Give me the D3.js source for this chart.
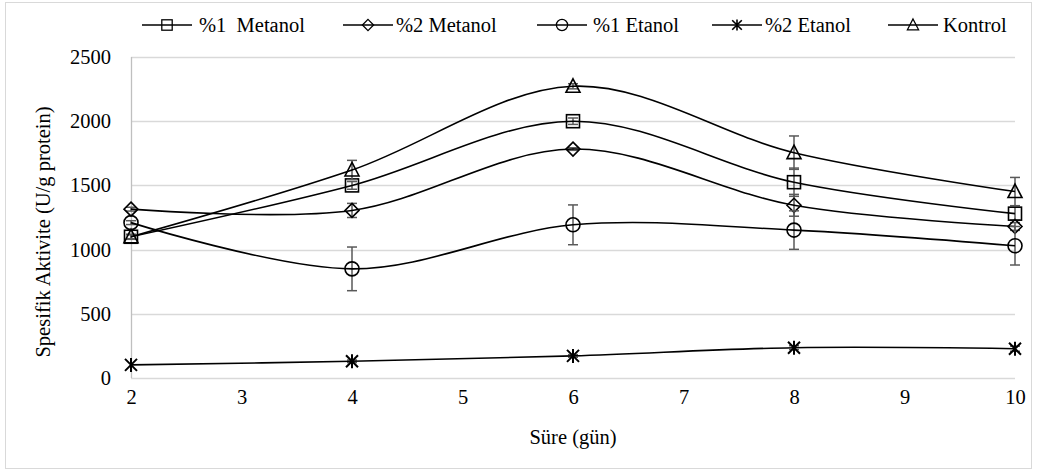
<!DOCTYPE html>
<html lang="tr">
<head>
<meta charset="UTF-8">
<title>Spesifik Aktivite</title>
<script src="https://d3js.org/d3.v7.min.js"></script>
<style>
  body { margin: 0; background: #fff; }
  svg text { font-family: "Liberation Serif", "Times New Roman", Tinos, "DejaVu Serif", serif !important; fill: #000; }
</style>
</head>
<body>
<svg width="1038" height="472"></svg>
<script>
const days = [2, 4, 6, 8, 10];
const seriesNames = ["%1  Metanol", "%2 Metanol", "%1 Etanol", "%2 Etanol", "Kontrol"];
const seriesSymbols = ["square", "diamond", "circle", "star", "triangle"];
const metanol1 = [1100, 1500, 2000, 1525, 1280];
const metanol2 = [1315, 1305, 1783, 1345, 1180];
const etanol1 = [1210, 850, 1193, 1152, 1030];
const etanol2 = [102, 130, 172, 236, 228];
const kontrol = [1100, 1620, 2272, 1755, 1452];
const metanol1Err = [20, 30, 25, 110, 50];
const metanol2Err = [15, 55, 10, 85, 30];
const etanol1Err = [15, 170, 155, 150, 150];
const etanol2Err = [5, 10, 10, 15, 20];
const kontrolErr = [15, 75, 20, 130, 110];
const yTicks = [0, 500, 1000, 1500, 2000, 2500];
const xTicks = [2, 3, 4, 5, 6, 7, 8, 9, 10];

const seriesValues = [metanol1, metanol2, etanol1, etanol2, kontrol];
const seriesErrors = [metanol1Err, metanol2Err, etanol1Err, etanol2Err, kontrolErr];

const serif = "'Liberation Serif', 'Times New Roman', Tinos, 'DejaVu Serif', serif";
const fontSize = 20.5;
const svg = d3.select("svg");

// outer frame
svg.append("rect")
  .attr("x", 5.5).attr("y", 2.5)
  .attr("width", 1026).attr("height", 466)
  .attr("fill", "none").attr("stroke", "#d9d9d9");

const x = d3.scaleLinear().domain([2, 10]).range([131, 1015]);
const y = d3.scaleLinear().domain([0, 2500]).range([378, 57]);

// gridlines
svg.append("g").selectAll("line")
  .data(yTicks)
  .join("line")
  .attr("x1", x(2)).attr("x2", x(10))
  .attr("y1", d => Math.round(y(d)) + 0.5).attr("y2", d => Math.round(y(d)) + 0.5)
  .attr("stroke", "#d9d9d9").attr("stroke-width", 1.3);

// y axis line
svg.append("line")
  .attr("x1", x(2) + 0.5).attr("x2", x(2) + 0.5)
  .attr("y1", y(2500)).attr("y2", y(0))
  .attr("stroke", "#bfbfbf").attr("stroke-width", 1.3);

const yAxis = d3.axisLeft(y).tickValues(yTicks).tickSize(0).tickPadding(20).tickFormat(d3.format("d"));
const gy = svg.append("g").attr("transform", `translate(${x(2)},0)`).call(yAxis)
  .attr("font-family", serif).attr("font-size", fontSize);
gy.select(".domain").remove();

const xAxis = d3.axisBottom(x).tickValues(xTicks).tickSize(0).tickPadding(11).tickFormat(d3.format("d"));
const gx = svg.append("g").attr("transform", `translate(0,${y(0)})`).call(xAxis)
  .attr("font-family", serif).attr("font-size", fontSize);
gx.select(".domain").remove();

// axis titles
svg.append("text")
  .attr("text-anchor", "middle")
  .attr("transform", `translate(50,232) rotate(-90)`)
  .attr("font-size", fontSize)
  .text("Spesifik Aktivite (U/g protein)");

svg.append("text")
  .attr("text-anchor", "middle")
  .attr("x", (x(2) + x(10)) / 2)
  .attr("y", 444)
  .attr("font-size", fontSize)
  .text("Süre (gün)");

function drawSymbol(g, type, cx, cy) {
  const s = g.append("g").attr("transform", `translate(${cx},${cy})`)
    .attr("fill", "none").attr("stroke", "#000").attr("stroke-width", 1.6);
  if (type === "square") {
    s.append("rect").attr("x", -6.5).attr("y", -6.5).attr("width", 13).attr("height", 13);
  } else if (type === "diamond") {
    s.append("path").attr("d", "M0,-7L7,0L0,7L-7,0Z");
  } else if (type === "circle") {
    s.append("circle").attr("r", 7);
  } else if (type === "triangle") {
    s.append("path").attr("d", "M0,-7.5L7,6L-7,6Z");
  } else if (type === "star") {
    s.append("path").attr("d", "M-6,-6L6,6M-6,6L6,-6M0,-7L0,7").attr("stroke-width", 2);
  }
}

const line = d3.line()
  .x((d, i) => x(days[i]))
  .y(d => y(d))
  .curve(d3.curveCardinal.tension(0));

seriesValues.forEach((vals, si) => {
  const g = svg.append("g");
  // error bars
  const errs = seriesErrors[si];
  vals.forEach((v, i) => {
    const e = errs[i];
    if (e < 8) return;
    const cx = x(days[i]);
    g.append("line").attr("x1", cx).attr("x2", cx)
      .attr("y1", y(v + e)).attr("y2", y(v - e))
      .attr("stroke", "#595959").attr("stroke-width", 1.5);
    [v + e, v - e].forEach(c => {
      g.append("line").attr("x1", cx - 5).attr("x2", cx + 5)
        .attr("y1", y(c)).attr("y2", y(c))
        .attr("stroke", "#595959").attr("stroke-width", 1.5);
    });
  });
  g.append("path")
    .datum(vals)
    .attr("d", line)
    .attr("fill", "none")
    .attr("stroke", "#000")
    .attr("stroke-width", 1.6);
  vals.forEach((v, i) => drawSymbol(g, seriesSymbols[si], x(days[i]), y(v)));
});

// legend
const legendX = [142, 343, 537, 712, 888];
const legendTextX = [199, 396, 593, 765, 943];
const legendY = 25;
seriesNames.forEach((name, i) => {
  const lg = svg.append("g");
  lg.append("line")
    .attr("x1", legendX[i]).attr("x2", legendX[i] + 50)
    .attr("y1", legendY).attr("y2", legendY)
    .attr("stroke", "#000").attr("stroke-width", 1.6);
  const sg = lg.append("g").attr("transform", `translate(${legendX[i] + 25},${legendY}) scale(0.8)`);
  drawSymbol(sg, seriesSymbols[i], 0, 0);
  lg.append("text")
    .attr("x", legendTextX[i])
    .attr("y", legendY + 7)
    .attr("font-size", fontSize)
    .attr("xml:space", "preserve")
    .style("white-space", "pre")
    .text(name);
});
</script>
</body>
</html>
